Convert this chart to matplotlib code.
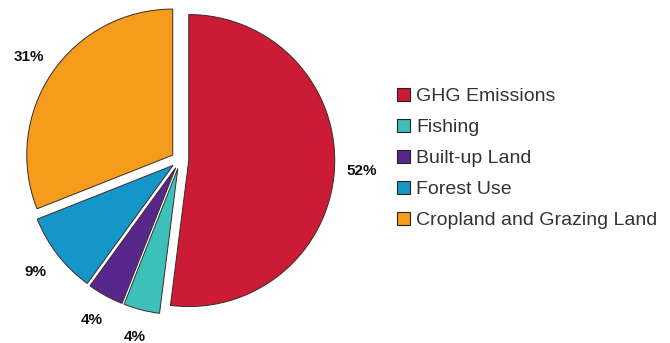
import matplotlib.pyplot as plt
from matplotlib.patches import Patch

plt.rcParams["font.family"] = ["Liberation Sans", "DejaVu Sans"]

# 数据
categories = ["GHG Emissions", "Fishing", "Built-up Land", "Forest Use", "Cropland and Grazing Land"]
shares = [52, 4, 4, 9, 31]
colors = ["#CC1B35", "#3DBFBA", "#58278C", "#1496C8", "#F59C1C"]

W, H = 670, 343
fig = plt.figure(figsize=(W / 100, H / 100), dpi=100)

# 饼图中心 (180, 160) 像素，半径约 146 像素
R = 146
cx, cy = 180, H - 160
span = 1.25
half = R * span
ax = fig.add_axes([(cx - half) / W, (cy - half) / H, 2 * half / W, 2 * half / H])
ax.set_aspect("equal")
ax.set_axis_off()

wedges, texts, autotexts = ax.pie(
    shares,
    colors=colors,
    startangle=90,
    counterclock=False,
    explode=[0.06] * len(shares),
    autopct="%d%%",
    pctdistance=1.19,
    wedgeprops=dict(edgecolor="#3a2a2a", linewidth=0.7),
    textprops=dict(fontsize=11, fontweight="bold", color="#111111"),
    frame=False,
)
ax.set_xlim(-span, span)
ax.set_ylim(-span, span)

handles = [Patch(facecolor=c, edgecolor="#222222", linewidth=0.8) for c in colors]
fig.legend(
    handles,
    categories,
    loc="upper left",
    bbox_to_anchor=(397 / W, 1 - 88 / H),
    frameon=False,
    fontsize=14,
    handlelength=0.68,
    handleheight=0.68,
    handletextpad=0.3,
    labelspacing=0.69,
    borderaxespad=0,
    borderpad=0,
    labelcolor="#333333",
)

fig.savefig("out.png", dpi=100)
